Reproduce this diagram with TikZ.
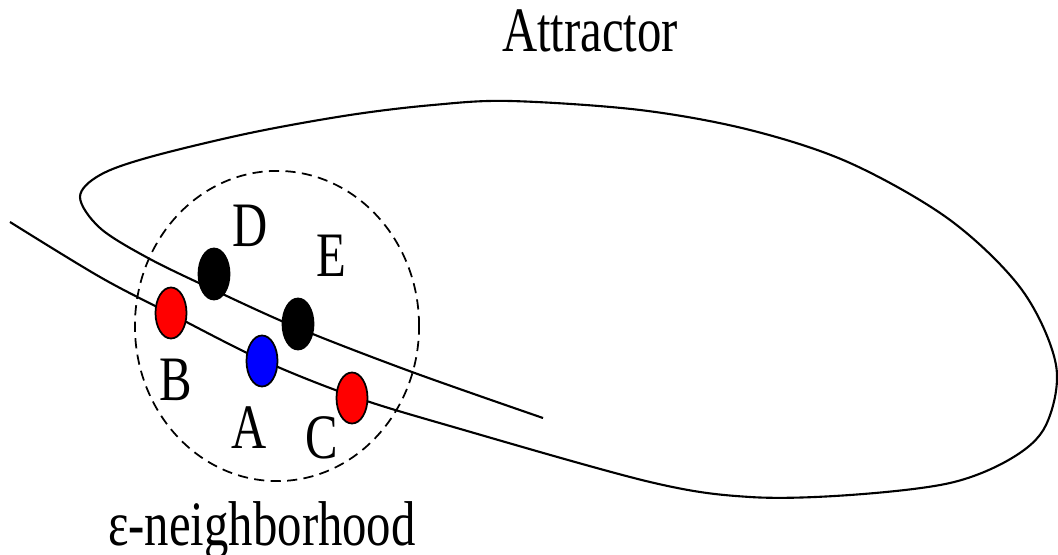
\documentclass[tikz,border=0pt]{standalone}
\usepackage{fontspec}
\setmainfont{Liberation Serif}
\newfontfamily\lblfont{Liberation Serif}
\usetikzlibrary{shapes.geometric, positioning}
\tikzset{every node/.append style={inner sep=0pt}}

\begin{document}
\begin{tikzpicture}[x={(0.01cm,0)}, y={(0,-0.01cm)},
    pt/.style={ellipse, draw=black, line width=0.5pt, minimum width=0.31cm, minimum height=0.51cm},
    lbl/.style={font=\lblfont\fontsize{18}{20}\selectfont, xscale=0.77, anchor=base}]
\useasboundingbox (0,0) rectangle (1058,555);
% attractor curve
\draw[line width=0.6pt] plot[smooth, tension=0.55] coordinates {
    (10,222) (100,277) (171,314) (262,360) (352,396) (450,426) (650,482)
    (750,497) (850,495) (950,483) (1012,458) (1046,425) (1056,365)
    (1022,290) (950,220) (850,163) (750,130) (640,110) (510,101) (433,105)
    (350,115) (250,133) (150,157) (100,175) (80,197) (100,228) (148,258)
    (214,290) (298,328) (412,372) (543,418)};
% neighborhood
\draw[dashed, dash pattern=on 2.9pt off 1.8pt, line width=0.5pt] (277,326) ellipse[x radius=1.42cm, y radius=1.55cm];
\node[pt, fill=black] (D) at (214,274) {};
\node[pt, fill=black] (E) at (298,324) {};
\node[pt, fill=red] (B) at (171,313) {};
\node[pt, fill=blue] (A) at (262,361) {};
\node[pt, fill=red] (C) at (352,398) {};
\node[lbl] (lD) at (250,247) {D};
\node[lbl] (lE) at (331,277) {E};
\node[lbl] (lB) at (176,400) {B};
\node[lbl] (lA) at (249,448) {A};
\node[lbl] (lC) at (322,458) {C};
\node[lbl] (eps) at (262,545) {ε-neighborhood};
\node[lbl] (attr) at (590,52) {Attractor};
\end{tikzpicture}
\end{document}
